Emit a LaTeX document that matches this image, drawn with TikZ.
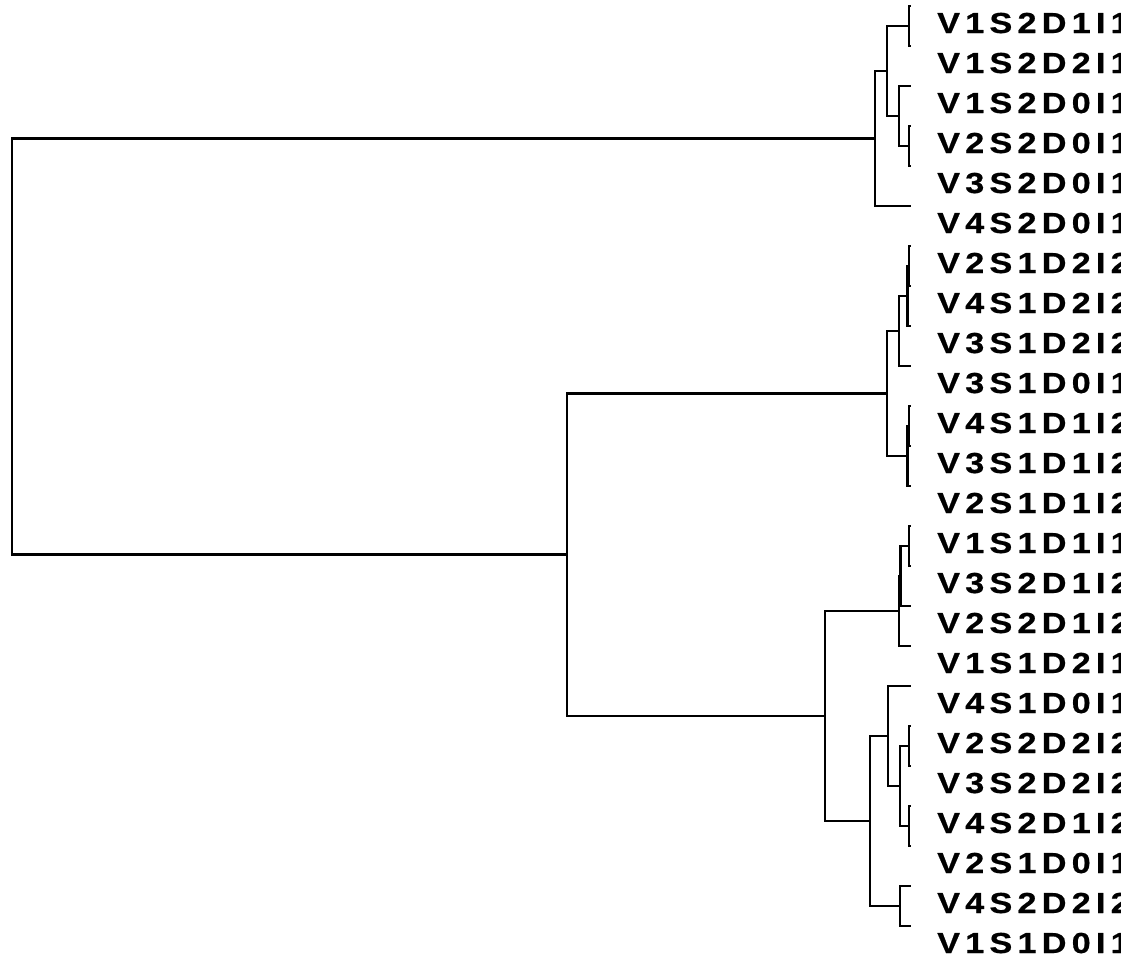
\documentclass[tikz,border=0pt]{standalone}
\usepackage{fontspec}
\newfontfamily\labfont{Liberation Sans Bold}[LetterSpace=18,FakeStretch=1.18,FakeBold=0.6]
\begin{document}
\begin{tikzpicture}[x=1pt,y=-1pt,
  link/.style={line width=2.6pt,line join=miter,line cap=rect},
  lab/.style={anchor=base west,inner sep=0pt,font=\labfont\fontsize{29}{29}\selectfont}]
\useasboundingbox (0,0) rectangle (1121,954);
\clip (0,0) rectangle (1121,954);
% leaves
\foreach \i in {0,...,23}{\coordinate (l\i) at (910,{6+40*\i});}
% top cluster
\coordinate (a1) at (909,26);
\coordinate (a2) at (909,146);
\coordinate (a3) at (899,116);
\coordinate (a4) at (887,71);
\coordinate (a5) at (875,138.5);
% middle cluster
\coordinate (b1) at (909,266);
\coordinate (b2) at (907.5,296);
\coordinate (b3) at (899,331);
\coordinate (b4) at (909,426);
\coordinate (b5) at (907.5,456);
\coordinate (b6) at (887,393.5);
% cluster C
\coordinate (c1) at (909,546);
\coordinate (c2) at (900.5,576);
\coordinate (c3) at (899,611);
% cluster D
\coordinate (d1) at (909,746);
\coordinate (d2) at (909,826);
\coordinate (d3) at (900,786);
\coordinate (d4) at (888,736);
\coordinate (d5) at (900,906);
\coordinate (d6) at (870,821);
\coordinate (e) at (825,716);
\coordinate (m) at (567,554.75);
\coordinate (root) at (12,346.6);
% brackets
\draw[link] (l0) -| (a1) |- (l1);
\draw[link] (l3) -| (a2) |- (l4);
\draw[link] (l2) -| (a3) |- (a2);
\draw[link] (a1) -| (a4) |- (a3);
\draw[link] (a4) -| (a5) |- (l5);
\draw[link] (l6) -| (b1) |- (l7);
\draw[link] (b1) -| (b2) |- (l8);
\draw[link] (b2) -| (b3) |- (l9);
\draw[link] (l10) -| (b4) |- (l11);
\draw[link] (b4) -| (b5) |- (l12);
\draw[link] (b3) -| (b6) |- (b5);
\draw[link] (l13) -| (c1) |- (l14);
\draw[link] (c1) -| (c2) |- (l15);
\draw[link] (c2) -| (c3) |- (l16);
\draw[link] (l18) -| (d1) |- (l19);
\draw[link] (l20) -| (d2) |- (l21);
\draw[link] (d1) -| (d3) |- (d2);
\draw[link] (l17) -| (d4) |- (d3);
\draw[link] (l22) -| (d5) |- (l23);
\draw[link] (d4) -| (d6) |- (d5);
\draw[link] (c3) -| (e) |- (d6);
\draw[link] (b6) -| (m) |- (e);
\draw[link] (a5) -| (root) |- (m);
% labels
\foreach \i/\t in {0/V1S2D1I1,1/V1S2D2I1,2/V1S2D0I1,3/V2S2D0I1,4/V3S2D0I1,5/V4S2D0I1,
  6/V2S1D2I2,7/V4S1D2I2,8/V3S1D2I2,9/V3S1D0I1,10/V4S1D1I2,11/V3S1D1I2,12/V2S1D1I2,
  13/V1S1D1I1,14/V3S2D1I2,15/V2S2D1I2,16/V1S1D2I1,17/V4S1D0I1,18/V2S2D2I2,19/V3S2D2I2,
  20/V4S2D1I2,21/V2S1D0I1,22/V4S2D2I2,23/V1S1D0I1}
  {\node[lab] (t\i) at (937,{33+40*\i}) {\t};}
\end{tikzpicture}
\end{document}
